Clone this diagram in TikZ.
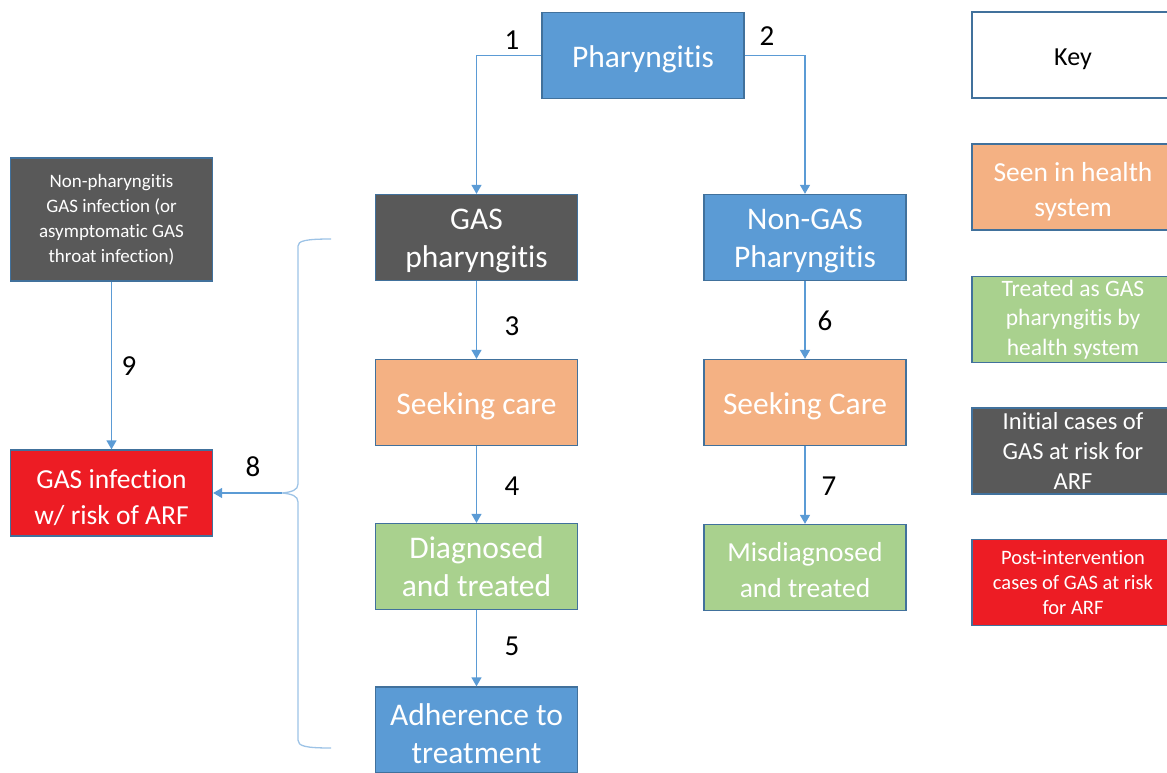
\documentclass[tikz,border=0pt]{standalone}
\usepackage{fontspec}
\setmainfont{Carlito}[Ligatures=NoCommon]
\usepackage{tikz}
\usetikzlibrary{arrows.meta}
\definecolor{sky}{HTML}{5B9BD5}
\definecolor{slate}{HTML}{595959}
\definecolor{peach}{HTML}{F4B183}
\definecolor{sage}{HTML}{A9D18E}
\definecolor{alarm}{HTML}{ED1C24}
\definecolor{edge}{HTML}{41719C}
\definecolor{wire}{HTML}{5B9BD5}
\definecolor{curly}{HTML}{9DC3E6}
\newcommand\lift[1][0.95em]{\rule{0pt}{#1}}
\tikzset{
  box/.style={draw=edge, line width=1.3pt, text=white, align=center, inner sep=0pt,
    minimum width=202pt, minimum height=86pt, font=\fontsize{31.5}{38}\selectfont,
    execute at begin node=\lift},
  mid/.style={font=\fontsize{27.5}{36}\selectfont},
  small/.style={font=\fontsize{19}{25}\selectfont, execute at begin node={}},
  arr/.style={draw=wire, line width=1.3pt, -{Triangle[width=10pt,length=9pt]}},
  num/.style={text=black, font=\fontsize{29}{34}\selectfont},
}
\begin{document}
\begin{tikzpicture}[x=1pt,y=-1pt]
  \useasboundingbox (0,0) rectangle (1167,773);
  \clip (0,0) rectangle (1167,773);
  % main flow
  \node[box,fill=sky] (phar) at (643,55.5) {Pharyngitis};
  \node[box,fill=slate] (gas) at (476.5,237.5) {\lift[28pt]GAS\\pharyngitis};
  \node[box,fill=sky] (nongas) at (805,237.5) {\lift[28pt]Non-GAS\\Pharyngitis};
  \node[box,fill=peach] (seek) at (476.5,402.5) {Seeking care};
  \node[box,fill=peach] (seekr) at (805,402.5) {Seeking Care};
  \node[box,fill=sage] (diag) at (476.5,566.5) {Diagnosed\\and treated};
  \node[box,fill=sage,mid] (misdiag) at (805,567.5) {\lift[23.5pt]Misdiagnosed\\and treated};
  \node[box,fill=sky] (adh) at (476.5,730) {\lift[28.5pt]Adherence to\\treatment};
  % left side
  \node[box,fill=slate,small,minimum height=123pt] (nonph) at (111.5,219.5)
    {Non-pharyngitis\\GAS infection (or\\asymptomatic GAS\\throat infection)};
  \node[box,fill=alarm,mid] (infect) at (111.5,493) {\lift[27.5pt]GAS infection\\w/ risk of ARF};
  % key
  \node[box,fill=white,text=black,font=\fontsize{26}{32}\selectfont] (key) at (1073,55) {Key};
  \node[box,fill=peach,font=\fontsize{27.5}{35}\selectfont] (kseen) at (1073,187) {\lift[27.5pt]Seen in health\\system};
  \node[box,fill=sage,font=\fontsize{23.5}{29.5}\selectfont] (ktreat) at (1073,319.5) {Treated as GAS\\pharyngitis by\\health system};
  \node[box,fill=slate,font=\fontsize{24.5}{30}\selectfont] (kinit) at (1073,451) {Initial cases of\\GAS at risk for\\ARF};
  \node[box,fill=alarm,small,font=\fontsize{20.5}{25}\selectfont] (kpost) at (1073,582.5) {Post-intervention\\cases of GAS at risk\\for ARF};
  % connectors
  \draw[arr] (phar.west) -| (gas.north);
  \draw[arr] (phar.east) -| (nongas.north);
  \draw[arr] (gas) -- (seek);
  \draw[arr] (seek) -- (diag);
  \draw[arr] (diag) -- (adh);
  \draw[arr] (nongas) -- (seekr);
  \draw[arr] (seekr) -- (misdiag);
  \draw[arr] (nonph) -- (infect);
  % brace
  \coordinate (tip) at (282,493);
  \draw[curly, line width=1.3pt] (331,239) .. controls (305,239) and (298,241) .. (298,246)
    -- (298,484) .. controls (298,490) and (292,492) .. (tip)
    .. controls (292,494) and (298,496) .. (298,502)
    -- (298,740) .. controls (298,746) and (305,748) .. (331,748);
  \draw[arr] (tip) -- (infect.east);
  % step numbers
  \node[num] (n1) at (512,40) {1};
  \node[num] (n2) at (767,36) {2};
  \node[num] (n3) at (512,326) {3};
  \node[num] (n4) at (512,486) {4};
  \node[num] (n5) at (512,646) {5};
  \node[num] (n6) at (825,321) {6};
  \node[num] (n7) at (829,486) {7};
  \node[num] (n8) at (253,467) {8};
  \node[num] (n9) at (129,366) {9};
\end{tikzpicture}
\end{document}
